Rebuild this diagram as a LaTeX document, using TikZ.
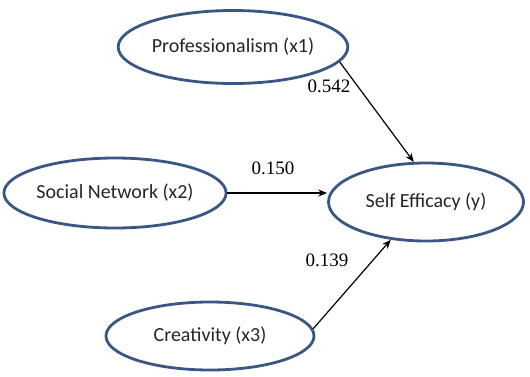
\documentclass[tikz,border=0pt]{standalone}
\usepackage{fontspec}
\setmainfont{Liberation Serif}
\newfontfamily\calib{Carlito}
\usepackage{tikz}
\usetikzlibrary{shapes.geometric,positioning,calc,arrows.meta}
\definecolor{ovalblue}{HTML}{3A5683}
\definecolor{labelgray}{HTML}{262626}

\begin{document}
\begin{tikzpicture}[x=0.5pt, y=-0.5pt,
  var/.style={ellipse, draw=ovalblue, line width=1.4pt, inner sep=0pt, minimum width=104pt, minimum height=35pt, font=\calib\fontsize{10}{12}\selectfont, text=labelgray},
  coef/.style={font=\fontsize{9.5}{11}\selectfont, inner sep=1pt},
  arrow/.style={-{Stealth[length=4.5pt, width=3.6pt]}, line width=0.6pt, black}
]
\useasboundingbox (0,0) rectangle (530,376);
% latent variables
\node[var, minimum width=105pt, minimum height=36.5pt] (prof) at (233,47) {Professionalism (x1)};
\node[var] (social) at (115,193) {Social Network (x2)};
\node[var, minimum width=97.5pt, minimum height=39pt] (self) at (426,202) {Self Efficacy (y)};
\node[var, minimum height=34pt] (creat) at (210,336) {Creativity (x3)};
% paths
\draw[arrow] (prof.-8) -- (self.107);
\draw[arrow] (social.east) -- (social.east -| self.west);
\draw[arrow] (creat.4) -- (self.-133);
% path coefficients
\node[coef] (c1) at (329,86) {0.542};
\node[coef] (c2) at (273,168) {0.150};
\node[coef] (c3) at (327,260) {0.139};
\end{tikzpicture}
\end{document}
